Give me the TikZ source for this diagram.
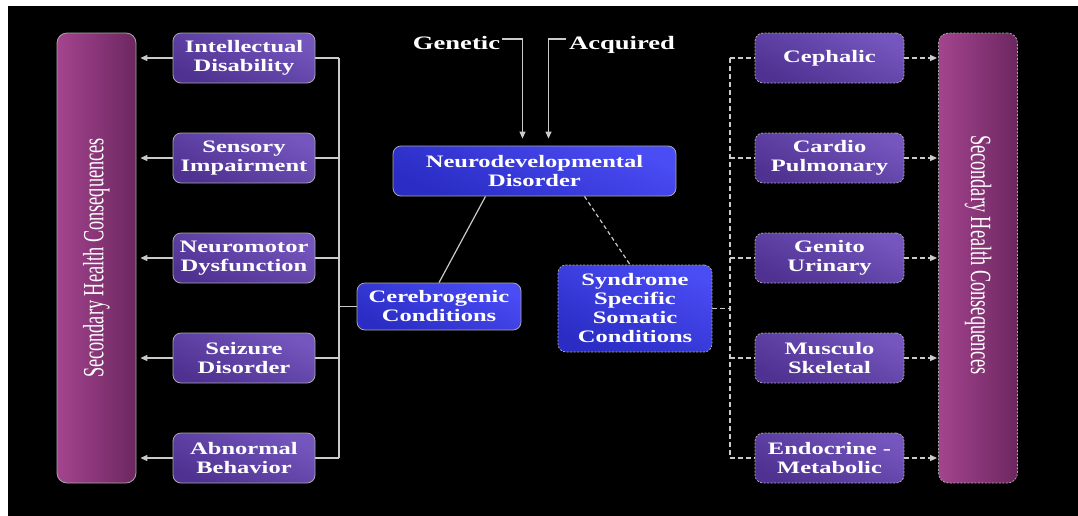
\documentclass[tikz,border=0pt]{standalone}
\usepackage{fontspec}
\setmainfont{Liberation Serif}
\newfontfamily\boxfont[FakeStretch=1.4]{Liberation Serif}
\usetikzlibrary{arrows.meta}
\definecolor{violetlight}{HTML}{7456BE}
\definecolor{violetdark}{HTML}{4E3190}
\definecolor{bluelight}{HTML}{4A4CF4}
\definecolor{bluedark}{HTML}{2A2CC4}
\definecolor{barlight}{HTML}{A4448F}
\definecolor{bardark}{HTML}{6C275F}
\definecolor{edgegray}{HTML}{A8A8A8}
\definecolor{linkgray}{HTML}{CACACA}
\begin{document}
\begin{tikzpicture}
[x=1pt, y=-1pt, every node/.style={inner sep=0pt},
 sidebox/.style={rectangle, rounded corners=8pt, minimum width=142pt, minimum height=50pt,
   draw=edgegray, line width=0.8pt, top color=violetlight, bottom color=violetdark, shading angle=-25,
   text=white, align=center, font=\boxfont\bfseries\fontsize{17.5}{19}\selectfont},
 organbox/.style={sidebox, minimum width=149pt, dash pattern=on 2pt off 1.5pt},
 hubbox/.style={sidebox, top color=bluelight, bottom color=bluedark, shading angle=-25},
 bar/.style={rectangle, rounded corners=10pt, minimum width=79pt, minimum height=450pt,
   draw=edgegray, line width=0.8pt, left color=barlight, right color=bardark},
 bartext/.style={text=white, font=\fontsize{18.3}{20}\selectfont},
 cause/.style={text=white, anchor=base, font=\boxfont\bfseries\fontsize{19}{21}\selectfont},
 link/.style={draw=linkgray, line width=1.2pt},
 dlink/.style={link, dash pattern=on 5pt off 3pt},
 >={Triangle[length=7pt,width=6pt]}]
\useasboundingbox (0,0) rectangle (1078,515);
\fill [white] (-5,-5) rectangle (1090,530);
\fill [black] (8,6) rectangle (1090,530);
% side bars
\node (lb) [bar] at (96.5,258) {};
\node (lbt) [bartext, rotate=90] at (lb.center) {\scalebox{1}[1.6]{Secondary Health Consequences}};
\node (rb) [bar, dash pattern=on 2pt off 1.5pt, left color=barlight, right color=bardark] at (978,258) {};
\node (rbt) [bartext, rotate=-90] at ([yshift=3pt]rb.center) {\scalebox{1}[1.6]{Secondary Health Consequences}};
% causes and hubs
\node (gen) [cause] at (456.5,49) {Genetic};
\node (acq) [cause] at (622,49) {Acquired};
\node (nd) [hubbox, minimum width=283pt] at (534.5,171) {Neurodevelopmental\\Disorder};
\node (cc) [hubbox, minimum width=164pt, minimum height=47pt] at (439,306.5) {Cerebrogenic\\Conditions};
\node (ss) [hubbox, minimum width=154pt, minimum height=87pt, dash pattern=on 2pt off 1.5pt] at (635,308.5) {Syndrome\\Specific\\Somatic\\Conditions};
% left column
\node (id) [sidebox] at (244,58) {Intellectual\\Disability};
\node (si) [sidebox] at (244,158) {Sensory\\Impairment};
\node (nm) [sidebox] at (244,258) {Neuromotor\\Dysfunction};
\node (sd) [sidebox] at (244,358) {Seizure\\Disorder};
\node (ab) [sidebox] at (244,458) {Abnormal\\Behavior};
% right column
\node (ce) [organbox] at (829.5,58) {Cephalic};
\node (cp) [organbox] at (829.5,158) {Cardio\\Pulmonary};
\node (gu) [organbox] at (829.5,258) {Genito\\Urinary};
\node (ms) [organbox] at (829.5,358) {Musculo\\Skeletal};
\node (em) [organbox] at (829.5,458) {Endocrine -\\Metabolic};
\coordinate (lbus) at (339,306.5);
\coordinate (rbus) at (730,308.5);
% causes into the disorder
\draw [link, ->, shorten >=7pt] ([shift={(2,-3.5)}]gen.east) -| ([xshift=-12pt]nd.north);
\draw [link, ->, shorten >=7pt] ([shift={(-3,-5.5)}]acq.west) -| ([xshift=14pt]nd.north);
\draw [link] ([xshift=-49pt]nd.south) -- (cc.north);
\draw [dlink, dash pattern=on 4pt off 3pt] ([xshift=50pt]nd.south) -- ([xshift=-5pt]ss.north);
% left bus
\draw [link] (cc.west) -- (lbus);
\draw [link] (id.east -| lbus) -- (ab.east -| lbus);
\draw [link] (id.east) -- (id.east -| lbus);
\draw [link] (si.east) -- (si.east -| lbus);
\draw [link] (nm.east) -- (nm.east -| lbus);
\draw [link] (sd.east) -- (sd.east -| lbus);
\draw [link] (ab.east) -- (ab.east -| lbus);
\draw [link, ->] (id.west) -- ([xshift=4pt]id.west -| lb.east);
\draw [link, ->] (si.west) -- ([xshift=4pt]si.west -| lb.east);
\draw [link, ->] (nm.west) -- ([xshift=4pt]nm.west -| lb.east);
\draw [link, ->] (sd.west) -- ([xshift=4pt]sd.west -| lb.east);
\draw [link, ->] (ab.west) -- ([xshift=4pt]ab.west -| lb.east);
% right bus
\draw [dlink] (ss.east) -- (rbus);
\draw [dlink] (ce.west -| rbus) -- (em.west -| rbus);
\draw [dlink] (ce.west -| rbus) -- (ce.west);
\draw [dlink] (cp.west -| rbus) -- (cp.west);
\draw [dlink] (gu.west -| rbus) -- (gu.west);
\draw [dlink] (ms.west -| rbus) -- (ms.west);
\draw [dlink] (em.west -| rbus) -- (em.west);
\draw [dlink, ->] (ce.east) -- ([xshift=-1pt]ce.east -| rb.west);
\draw [dlink, ->] (cp.east) -- ([xshift=-1pt]cp.east -| rb.west);
\draw [dlink, ->] (gu.east) -- ([xshift=-1pt]gu.east -| rb.west);
\draw [dlink, ->] (ms.east) -- ([xshift=-1pt]ms.east -| rb.west);
\draw [dlink, ->] (em.east) -- ([xshift=-1pt]em.east -| rb.west);
\end{tikzpicture}
\end{document}
